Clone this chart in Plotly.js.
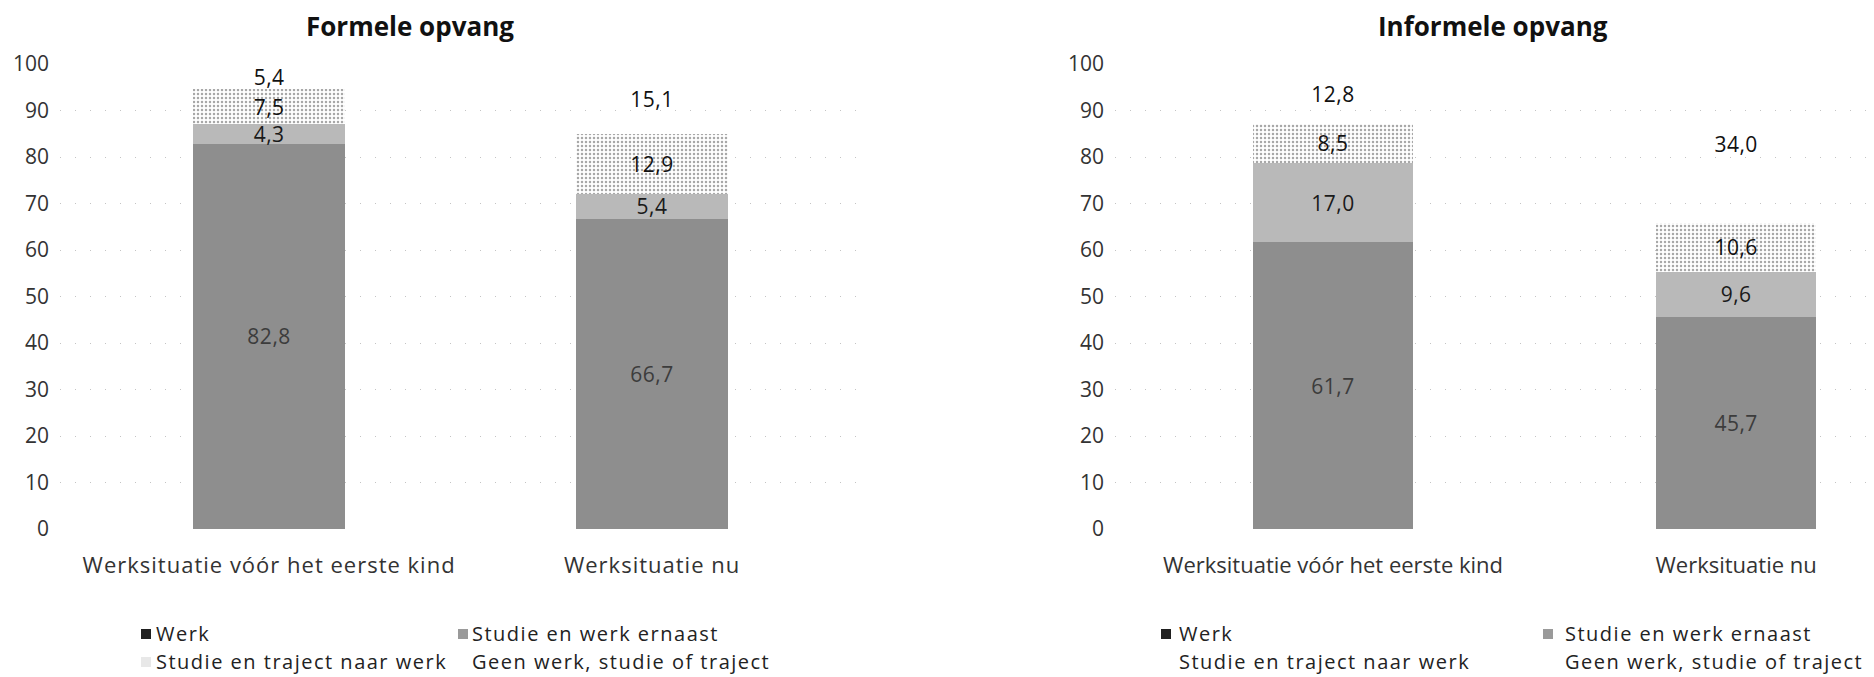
<!DOCTYPE html>
<html>
<head>
<meta charset="utf-8">
<script src="https://cdn.plot.ly/plotly-3.0.1.min.js"></script>
<style>
  html, body { margin: 0; padding: 0; background: #fff; }
  #chart { width: 1874px; height: 677px; }
  .xtick text { letter-spacing: 1px; }
  .annotation-text { letter-spacing: 1.5px; }
  .annotation-text tspan[style*="bold"] { letter-spacing: 0px; }
  .bartext { letter-spacing: 0.5px; }
</style>
</head>
<body>
<div id="chart"></div>
<script>
// ---- data ----
const categories = ['Werksituatie vóór het eerste kind', 'Werksituatie nu'];
const seriesNames = ['Werk', 'Studie en werk ernaast', 'Studie en traject naar werk', 'Geen werk, studie of traject'];

const formeelWerk = [82.8, 66.7];
const formeelStudieWerk = [4.3, 5.4];
const formeelTraject = [7.5, 12.9];
const formeelGeen = [5.4, 15.1];

const informeelWerk = [61.7, 45.7];
const informeelStudieWerk = [17.0, 9.6];
const informeelTraject = [8.5, 10.6];
const informeelGeen = [12.8, 34.0];

const panelTitles = ['Formele opvang', 'Informele opvang'];
const yTicks = [0, 10, 20, 30, 40, 50, 60, 70, 80, 90, 100];

// ---- styling ----
const W = 1874, H = 677;
const px = v => v / W;
const py = v => 1 - v / H;
const FONT = 'Open Sans, DejaVu Sans, sans-serif';

const styles = [
  { marker: { color: '#8e8e8e', line: { width: 0 } }, textColor: '#3c3c3c' },
  { marker: { color: '#b9b9b9', line: { width: 0 } }, textColor: '#1a1a1a' },
  { marker: { color: '#ffffff', line: { width: 0 },
              pattern: { shape: '.', fgcolor: '#a8a8a8', bgcolor: '#ffffff', size: 4, solidity: 0.3 } },
    textColor: '#111111' },
  { marker: { color: 'rgba(255,255,255,0)', line: { width: 0 } }, textColor: '#111111' }
];

function makeTraces(seriesList, xa, ya) {
  return seriesList.map((vals, i) => ({
    type: 'bar',
    name: seriesNames[i],
    x: categories,
    y: vals,
    xaxis: xa,
    yaxis: ya,
    marker: styles[i].marker,
    texttemplate: '%{y:.1f}',
    textposition: 'inside',
    insidetextanchor: 'middle',
    textangle: 0,
    constraintext: 'none',
    textfont: { family: FONT, size: 21, color: styles[i].textColor },
    hoverinfo: 'skip',
    showlegend: false
  }));
}

const traces = [
  ...makeTraces([formeelWerk, formeelStudieWerk, formeelTraject, formeelGeen], 'x', 'y'),
  ...makeTraces([informeelWerk, informeelStudieWerk, informeelTraject, informeelGeen], 'x2', 'y2')
];

const yDomain = [py(529), py(64)];

function yAxis(anchor) {
  return {
    domain: yDomain,
    range: [0, 100],
    tickvals: yTicks,
    ticks: '',
    showline: false,
    zeroline: false,
    showgrid: true,
    gridcolor: '#c4c4c4',
    griddash: '1px,14px',
    gridwidth: 1,
    tickfont: { family: FONT, size: 21, color: '#333' },
    ticklabelstandoff: 10,
    anchor: anchor,
    fixedrange: true
  };
}
function xAxis(domain, range, anchor) {
  return {
    domain: domain,
    range: range,
    type: 'category',
    ticks: '',
    showline: false,
    showgrid: false,
    zeroline: false,
    tickfont: { family: FONT, size: 22, color: '#333' },
    ticklabelstandoff: 21,
    anchor: anchor,
    fixedrange: true
  };
}

// legend built from series names
const legendRows = [
  { name: seriesNames[0], col: 0, row: 0, swatch: '#202020' },
  { name: seriesNames[1], col: 1, row: 0, swatch: '#9a9a9a' },
  { name: seriesNames[2], col: 0, row: 1, swatch: '#e8e8e8' },
  { name: seriesNames[3], col: 1, row: 1, swatch: null }
];
const legendPanels = [
  { colX: [141, 458], textX: [154, 470], showTrajectSwatch: true },
  { colX: [1161, 1543], textX: [1177, 1563], showTrajectSwatch: false }
];
const rowY = [633, 661];

const annotations = [];
const shapes = [];
panelTitles.forEach((t, i) => {
  annotations.push({
    xref: 'paper', yref: 'paper',
    x: px(i === 0 ? 410 : 1493), y: py(26),
    text: '<b>' + t + '</b>', showarrow: false,
    xanchor: 'center', yanchor: 'middle',
    font: { family: FONT, size: 26, color: '#111' }
  });
});
legendPanels.forEach(p => {
  legendRows.forEach(r => {
    annotations.push({
      xref: 'paper', yref: 'paper',
      x: px(p.textX[r.col]), y: py(rowY[r.row]),
      text: r.name, showarrow: false,
      xanchor: 'left', yanchor: 'middle', align: 'left',
      font: { family: FONT, size: 20, color: '#222' }
    });
    if (r.swatch && !(r.col === 0 && r.row === 1 && !p.showTrajectSwatch)) {
      const x0 = p.colX[r.col];
      shapes.push({
        type: 'rect', xref: 'paper', yref: 'paper',
        x0: px(x0), x1: px(x0 + 10),
        y0: py(rowY[r.row] + 6), y1: py(rowY[r.row] - 4),
        fillcolor: r.swatch, line: { width: 0 }
      });
    }
  });
});

const layout = {
  width: W, height: H,
  margin: { l: 0, r: 0, t: 0, b: 0 },
  paper_bgcolor: '#ffffff',
  plot_bgcolor: 'rgba(0,0,0,0)',
  barmode: 'stack',
  bargap: 0.603,
  separators: ',.',
  font: { family: FONT, color: '#333' },
  showlegend: false,
  xaxis: xAxis([px(60), px(860)], [-0.546, 1.543], 'y'),
  yaxis: yAxis('x'),
  xaxis2: xAxis([px(1115), px(1874)], [-0.541, 1.342], 'y2'),
  yaxis2: yAxis('x2'),
  annotations: annotations,
  shapes: shapes
};

Plotly.newPlot('chart', traces, layout, { staticPlot: true, displayModeBar: false });
</script>
</body>
</html>
